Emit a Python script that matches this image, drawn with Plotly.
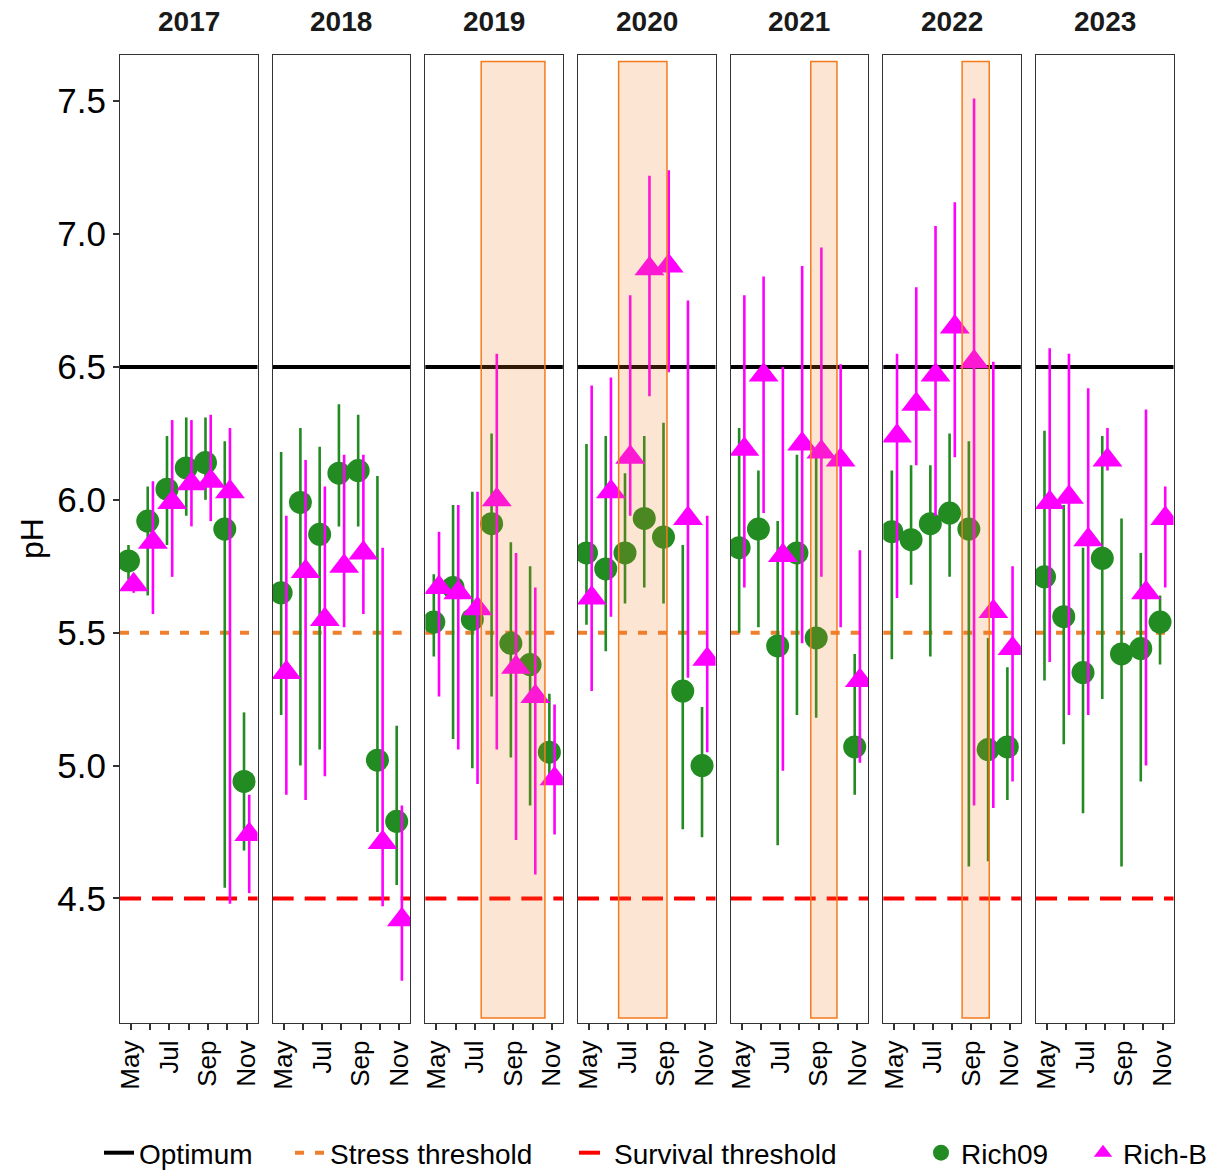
import plotly.graph_objects as go

# ---------------- data ----------------
YEARS = [2017, 2018, 2019, 2020, 2021, 2022, 2023]
MONTHS = [5, 6, 7, 8, 9, 10, 11]
MONTH_LABELS = ["May", "", "Jul", "", "Sep", "", "Nov"]

SERIES_NAMES = ["Rich09", "Rich-B"]

RICH09_MEAN = {
    2017: [5.77, 5.92, 6.04, 6.12, 6.14, 5.89, 4.94],
    2018: [5.65, 5.99, 5.87, 6.10, 6.11, 5.02, 4.79],
    2019: [5.54, 5.67, 5.55, 5.91, 5.46, 5.38, 5.05],
    2020: [5.80, 5.74, 5.80, 5.93, 5.86, 5.28, 5.00],
    2021: [5.82, 5.89, 5.45, 5.80, 5.48, None, 5.07],
    2022: [5.88, 5.85, 5.91, 5.95, 5.89, 5.06, 5.07],
    2023: [5.71, 5.56, 5.35, 5.78, 5.42, 5.44, 5.54],
}
RICH09_LOW = {
    2017: [5.70, 5.64, 5.83, 5.94, 6.00, 4.54, 4.68],
    2018: [5.19, 5.00, 5.06, 5.90, 5.90, 4.75, 4.55],
    2019: [5.41, 5.10, 4.99, 5.26, 5.03, 4.85, 4.93],
    2020: [5.53, 5.43, 5.61, 5.67, 5.61, 4.76, 4.73],
    2021: [5.50, 5.52, 4.70, 5.19, 5.18, None, 4.89],
    2022: [5.40, 5.68, 5.41, 5.71, 4.62, 4.64, 4.87],
    2023: [5.32, 5.08, 4.82, 5.25, 4.62, 4.94, 5.38],
}
RICH09_HIGH = {
    2017: [5.83, 6.05, 6.24, 6.31, 6.31, 6.22, 5.20],
    2018: [6.18, 6.27, 6.20, 6.36, 6.32, 6.09, 5.15],
    2019: [5.72, 5.98, 6.03, 6.25, 5.84, 5.75, 5.27],
    2020: [6.21, 6.24, 6.10, 6.24, 6.29, 5.83, 5.22],
    2021: [6.27, 6.11, 5.92, 6.17, 6.19, None, 5.42],
    2022: [6.11, 6.13, 6.13, 6.25, 6.22, 5.48, 5.37],
    2023: [6.26, 5.98, 5.82, 6.24, 5.93, 5.80, 5.64],
}

RICHB_MEAN = {
    2017: [5.68, 5.84, 5.99, 6.06, 6.07, 6.03, 4.74],
    2018: [5.35, 5.73, 5.55, 5.75, 5.80, 4.71, 4.42],
    2019: [5.67, 5.65, 5.59, 6.00, 5.37, 5.26, 4.95],
    2020: [5.63, 6.03, 6.16, 6.87, 6.88, 5.93, 5.40],
    2021: [6.19, 6.47, 5.79, 6.21, 6.18, 6.15, 5.32],
    2022: [6.24, 6.36, 6.47, 6.65, 6.52, 5.58, 5.44],
    2023: [5.99, 6.01, 5.85, 6.15, None, 5.65, 5.93],
}
RICHB_LOW = {
    2017: [5.65, 5.57, 5.71, 5.90, 5.92, 4.48, 4.52],
    2018: [4.89, 4.87, 4.96, 5.52, 5.57, 4.47, 4.19],
    2019: [5.26, 5.06, 4.93, 5.06, 4.72, 4.59, 4.74],
    2020: [5.28, 5.56, 5.94, 6.39, 6.48, 5.33, 5.05],
    2021: [5.67, 5.95, 4.98, 5.46, 5.71, 5.52, 5.01],
    2022: [5.63, 6.13, 5.94, 6.16, 4.85, 4.84, 4.94],
    2023: [5.39, 5.19, 5.19, 6.11, None, 5.00, 5.67],
}
RICHB_HIGH = {
    2017: [5.72, 6.07, 6.30, 6.30, 6.32, 6.27, 4.89],
    2018: [5.94, 6.15, 6.05, 6.17, 6.17, 5.82, 4.85],
    2019: [5.88, 5.98, 6.03, 6.55, 5.80, 5.67, 5.23],
    2020: [6.43, 6.46, 6.77, 7.22, 7.24, 6.75, 5.94],
    2021: [6.77, 6.84, 6.50, 6.88, 6.95, 6.51, 5.81],
    2022: [6.55, 6.80, 7.03, 7.12, 7.51, 6.52, 5.75],
    2023: [6.57, 6.55, 6.42, 6.27, None, 6.34, 6.05],
}

THRESHOLD_NAMES = ["Optimum", "Stress threshold", "Survival threshold"]
THRESHOLD_VALUES = [6.5, 5.5, 4.5]

HEAT_YEARS = [2019, 2020, 2021, 2022]
HEAT_START = [7.33, 6.54, 8.59, 8.52]   # month (fractional)
HEAT_END = [10.64, 9.05, 9.95, 9.93]
HEAT_LOW = 4.05
HEAT_HIGH = 7.65

Y_TICKS = [4.5, 5.0, 5.5, 6.0, 6.5, 7.0, 7.5]

# ---------------- styling ----------------
W, H = 1217, 1173
FONT = "Liberation Sans, Arial, Helvetica, sans-serif"
GREEN = "#228B22"
MAGENTA = "#FF00FF"
THR_COLORS = ["#000000", "#EE7F2D", "#FF0000"]
THR_DASH = ["solid", "9px,11px", "21px,11px"]
THR_WIDTH = [4, 4, 4]
OFFSETS = [-0.13, 0.14]
SYMBOLS = ["circle", "triangle-up"]
SIZES = [23, 26]
COLORS = [GREEN, MAGENTA]
X_RANGE = [4.43, 11.57]
Y_RANGE = [4.031, 7.674]

PANEL_LEFT0 = 120.0
PANEL_STEP = 152.67
PANEL_W = 137.5
PANEL_TOP = 55.0
PANEL_BOTTOM = 1023.0


def fx(p):
    return p / W


def fy(p):
    return 1 - p / H


series_data = [
    (RICH09_MEAN, RICH09_LOW, RICH09_HIGH),
    (RICHB_MEAN, RICHB_LOW, RICHB_HIGH),
]

fig = go.Figure()
layout = dict(
    width=W, height=H,
    margin=dict(l=0, r=0, t=0, b=0, autoexpand=False),
    paper_bgcolor="white", plot_bgcolor="white",
    font=dict(family=FONT, color="black"),
    showlegend=True,
)
shapes = []
annotations = []

for i, year in enumerate(YEARS):
    xname = "x" if i == 0 else f"x{i+1}"
    yname = "y" if i == 0 else f"y{i+1}"
    xkey = "xaxis" if i == 0 else f"xaxis{i+1}"
    ykey = "yaxis" if i == 0 else f"yaxis{i+1}"
    left = PANEL_LEFT0 + i * PANEL_STEP
    layout[xkey] = dict(
        domain=[fx(left), fx(left + PANEL_W)],
        anchor=yname, range=X_RANGE, showgrid=False, zeroline=False,
        showline=True, mirror=True, linecolor="#333333", linewidth=1.3,
        ticks="outside", ticklen=6, tickwidth=1.5, tickcolor="#333333",
        tickvals=MONTHS, ticktext=MONTH_LABELS, tickangle=-90,
        tickfont=dict(size=26, color="black", family=FONT),
    )
    ydict = dict(
        domain=[fy(PANEL_BOTTOM), fy(PANEL_TOP)],
        anchor=xname, range=Y_RANGE, showgrid=False, zeroline=False,
        showline=True, mirror=True, linecolor="#333333", linewidth=1.3,
    )
    if i == 0:
        ydict.update(ticks="outside", ticklen=6, tickwidth=1.5, tickcolor="#333333",
                     tickvals=Y_TICKS, tickformat=".1f",
                     tickfont=dict(size=35, color="black", family=FONT))
    else:
        ydict.update(matches="y", showticklabels=False, ticks="")
    layout[ykey] = ydict

    # threshold lines (below points)
    for v, c, d, w in zip(THRESHOLD_VALUES, THR_COLORS, THR_DASH, THR_WIDTH):
        shapes.append(dict(type="line", xref=f"{xname} domain", yref=yname,
                           x0=0, x1=1, y0=v, y1=v, layer="below",
                           line=dict(color=c, width=w, dash=d)))

    # series
    for s, (mean_d, low_d, high_d) in enumerate(series_data):
        xs, ys, up, dn = [], [], [], []
        for m, mu, lo, hi in zip(MONTHS, mean_d[year], low_d[year], high_d[year]):
            if mu is None:
                continue
            xs.append(m + OFFSETS[s])
            ys.append(mu)
            up.append(hi - mu)
            dn.append(mu - lo)
        fig.add_trace(go.Scatter(
            x=xs, y=ys, mode="markers", xaxis=xname, yaxis=yname,
            name=SERIES_NAMES[s], legend=f"legend{4 + s}",
            showlegend=(i == 0),
            marker=dict(symbol=SYMBOLS[s], size=SIZES[s], color=COLORS[s],
                        line=dict(width=0)),
            error_y=dict(type="data", symmetric=False, array=up, arrayminus=dn,
                         color=COLORS[s], thickness=2.6, width=0),
        ))

    # strip label
    annotations.append(dict(
        text=f"<b>{year}</b>", xref="paper", yref="paper",
        x=fx(left + PANEL_W / 2), y=fy(22), xanchor="center", yanchor="middle",
        showarrow=False, font=dict(size=28, color="#1a1a1a", family=FONT)))

# heat periods (drawn above the points, semi-transparent)
for year, x0, x1 in zip(HEAT_YEARS, HEAT_START, HEAT_END):
    i = YEARS.index(year)
    xname = "x" if i == 0 else f"x{i+1}"
    yname = "y" if i == 0 else f"y{i+1}"
    shapes.append(dict(type="rect", xref=xname, yref=yname,
                       x0=x0, x1=x1, y0=HEAT_LOW, y1=HEAT_HIGH, layer="above",
                       fillcolor="rgba(245,125,35,0.2)",
                       line=dict(color="rgb(245,122,28)", width=1.5)))

# threshold legend entries
for k, (nm, c, d, w) in enumerate(zip(THRESHOLD_NAMES, THR_COLORS, THR_DASH, THR_WIDTH)):
    fig.add_trace(go.Scatter(
        x=[None], y=[None], mode="lines", name=nm, xaxis="x", yaxis="y",
        legend="legend" if k == 0 else f"legend{k+1}",
        line=dict(color=c, dash=d, width=w), showlegend=True))

# y-axis title
annotations.append(dict(
    text="pH", xref="paper", yref="paper", x=fx(32), y=fy(539),
    xanchor="center", yanchor="middle", textangle=-90, showarrow=False,
    font=dict(size=32, color="black", family=FONT)))

# legends
text_starts = [139, 330, 614, 961, 1123]
for k, ts in enumerate(text_starts):
    key = "legend" if k == 0 else f"legend{k+1}"
    layout[key] = dict(
        x=fx(ts - 40), xanchor="left", y=fy(1153), yanchor="middle",
        orientation="h", bgcolor="rgba(0,0,0,0)", borderwidth=0,
        font=dict(size=28, color="black", family=FONT),
        itemsizing="trace",
    )

layout["shapes"] = shapes
layout["annotations"] = annotations
fig.update_layout(**layout)

fig.write_html("out.html")
